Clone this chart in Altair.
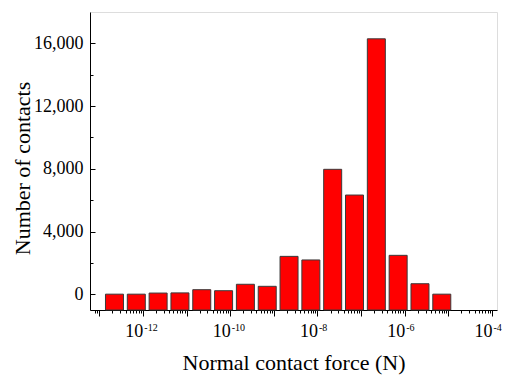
import altair as alt
import pandas as pd

# Histogram bins: two per decade, [1, 5) x 10^n and [5, 10) x 10^n
bin_lo = [1e-13, 5e-13, 1e-12, 5e-12, 1e-11, 5e-11, 1e-10, 5e-10,
          1e-9, 5e-9, 1e-8, 5e-8, 1e-7, 5e-7, 1e-6, 5e-6]
bin_hi = [5e-13, 1e-12, 5e-12, 1e-11, 5e-11, 1e-10, 5e-10, 1e-9,
          5e-9, 1e-8, 5e-8, 1e-7, 5e-7, 1e-6, 5e-6, 1e-5]
counts = [10, 10, 80, 90, 295, 230, 640, 510,
          2420, 2190, 7970, 6330, 16290, 2485, 675, 10]

# Tick positions
major_decades = [10.0 ** e for e in range(-13, -3)]
label_decades = [10.0 ** e for e in range(-12, -3, 2)]
x_min, x_max = 8e-14, 1e-4
minor_x = [m * 10.0 ** e for e in range(-14, -4) for m in range(2, 10)
           if x_min <= m * 10.0 ** e <= x_max]
y_major = [0, 4000, 8000, 12000, 16000]
y_minor = [2000, 6000, 10000, 14000]
y_min, y_max = -1000, 18000

df = pd.DataFrame({
    "center": [(lo * hi) ** 0.5 for lo, hi in zip(bin_lo, bin_hi)],
    "count": counts,
})

FONT = "Liberation Serif"
W, H = 407, 298

x_scale = alt.Scale(type="log", domain=[x_min, x_max], nice=False)
y_scale = alt.Scale(domain=[y_min, y_max], nice=False, zero=False)
exp_expr = "round(log(datum.value) / LN10)"

bars = alt.Chart(df).mark_bar(
    size=18, fill="#ff0000", stroke="#3a3a3a", strokeWidth=1, orient="vertical"
).encode(
    x=alt.X("center:Q", scale=x_scale, axis=alt.Axis(
        orient="bottom", values=major_decades, tickSize=6, tickColor="black",
        domainColor="black", tickWidth=1, grid=False,
        labelExpr=f"{exp_expr} % 2 == 0 ? '10' : ''",
        labelFont=FONT, labelFontSize=18, labelColor="black",
        labelAlign="right", labelBaseline="top", labelPadding=6,
        labelOverlap=False, labelFlush=False,
        title="Normal contact force (N)", titleFont=FONT, titleFontSize=22,
        titleFontWeight="normal", titleColor="black",
        titleX=W / 2, titleY=52, titleBaseline="middle", titleAlign="center",
    )),
    y=alt.Y("count:Q", scale=y_scale, axis=alt.Axis(
        orient="left", values=y_major, ticks=False, tickSize=0,
        labelExpr="format(datum.value, ',')",
        domainColor="black", grid=False,
        labelFont=FONT, labelFontSize=18, labelColor="black", labelPadding=7,
        title="Number of contacts", titleFont=FONT, titleFontSize=22,
        titleFontWeight="normal", titleColor="black",
        titleAngle=270, titleX=-68, titleY=156,
        titleBaseline="middle", titleAlign="center",
    )),
    y2=alt.datum(y_min),
)

# Minor x ticks and inward major y ticks
layer_b = alt.Chart(df).mark_point(opacity=0).encode(
    x=alt.X("center:Q", scale=x_scale, axis=alt.Axis(
        orient="bottom", values=minor_x, tickSize=3, tickColor="black",
        labels=False, domain=False, grid=False, title=None,
    )),
    y=alt.Y("count:Q", scale=y_scale, axis=alt.Axis(
        orient="right", offset=-W, values=y_major, tickSize=5,
        tickColor="black", labels=False, domain=False, grid=False, title=None,
    )),
)

# Decade exponents and inward minor y ticks
layer_c = alt.Chart(df).mark_point(opacity=0).encode(
    x=alt.X("center:Q", scale=x_scale, axis=alt.Axis(
        orient="bottom", values=label_decades, ticks=False, tickSize=0,
        domain=False, grid=False, title=None,
        labelExpr=f"'' + {exp_expr}",
        labelFont=FONT, labelFontSize=10, labelColor="black",
        labelAlign="left", labelBaseline="top", labelPadding=12,
        labelOffset=1, labelOverlap=False, labelFlush=False,
    )),
    y=alt.Y("count:Q", scale=y_scale, axis=alt.Axis(
        orient="right", offset=-W, values=y_minor, tickSize=3,
        tickColor="black", labels=False, domain=False, grid=False, title=None,
    )),
)

chart = alt.layer(bars, layer_b, layer_c).resolve_axis(
    x="independent", y="independent"
).properties(
    width=W, height=H,
    autosize=alt.AutoSizeParams(type="none"),
    padding={"left": 90, "top": 12, "right": 10, "bottom": 68},
).configure_view(
    stroke="black", strokeWidth=1
).configure(background="white")

chart.save("out.html", embed_options={"renderer": "svg", "actions": False})
